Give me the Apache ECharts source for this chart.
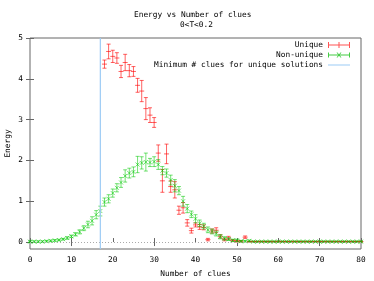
<!DOCTYPE html>
<html><head><meta charset="utf-8">
<script src="https://cdn.jsdelivr.net/npm/echarts@6/dist/echarts.min.js"></script>
<style>html,body{margin:0;padding:0;background:#fff}#c{width:374px;height:281px}</style>
</head><body><div id="c"></div>
<script>
const uniqueClues = [18,19,20,21,22,23,24,25,26,27,28,29,30,31,32,33,34,35,36,37,38,39,40,41,42,43,44,45,46,47,48,49,50,51,52,53,54,55,56,57,58,59,60,61,62,63,64,65,66,67,68,69,70,71,72,73,74,75,76,77,78,79,80];
const uniqueEnergy = [4.36,4.67,4.55,4.51,4.18,4.40,4.20,4.18,3.84,3.70,3.27,3.11,2.93,2.18,1.50,2.16,1.36,1.28,0.78,0.84,0.47,0.28,0.42,0.37,0.36,0.06,0.27,0.29,0.14,0.06,0.10,0.04,0.02,0.02,0.12,
  0.01,0.01,0.01,0.01,0.01,0.01,0.01,0.01,0.01,0.01,0.01,0.01,0.01,0.01,0.01,0.01,0.01,0.01,0.01,0.01,0.01,0.01,0.01,0.01,0.01,0.01,0.01,0.01];
const uniqueErr = [0.10,0.18,0.15,0.13,0.15,0.20,0.15,0.12,0.17,0.26,0.27,0.18,0.12,0.20,0.28,0.24,0.14,0.20,0.10,0.13,0.08,0.06,0.05,0.06,0.06,0.03,0.05,0.06,0.04,0.03,0.04,0.02,0.02,0.02,0.03,
  0.01,0.01,0.01,0.01,0.01,0.01,0.01,0.01,0.01,0.01,0.01,0.01,0.01,0.01,0.01,0.01,0.01,0.01,0.01,0.01,0.01,0.01,0.01,0.01,0.01,0.01,0.01,0.01];
const nonUniqueClues = [0,1,2,3,4,5,6,7,8,9,10,11,12,13,14,15,16,17,18,19,20,21,22,23,24,25,26,27,28,29,30,31,32,33,34,35,36,37,38,39,40,41,42,43,44,45,46,47,48,49,50,51,52,53,54,55,56,57,58,59,60,61,62,63,64,65,66,67,68,69,70,71,72,73,74,75,76,77,78,79,80];
const nonUniqueEnergy = [0.01,0.01,0.01,0.01,0.02,0.03,0.04,0.05,0.07,0.10,0.14,0.19,0.25,0.34,0.43,0.52,0.67,0.76,0.98,1.06,1.20,1.33,1.46,1.62,1.69,1.72,1.90,1.94,1.96,1.95,1.97,1.90,1.75,1.69,1.52,1.38,1.26,1.00,0.82,0.68,0.57,0.46,0.39,0.30,0.26,0.21,0.13,0.09,0.07,0.04,0.04,0.02,0.02,0.03,
  0.01,0.01,0.01,0.01,0.01,0.01,0.01,0.01,0.01,0.01,0.01,0.01,0.01,0.01,0.01,0.01,0.01,0.01,0.01,0.01,0.01,0.01,0.01,0.01,0.01,0.01,0.01];
const nonUniqueErr = [0.02,0.02,0.02,0.02,0.02,0.02,0.02,0.02,0.02,0.03,0.03,0.04,0.05,0.06,0.08,0.10,0.10,0.12,0.10,0.10,0.10,0.10,0.12,0.15,0.12,0.12,0.20,0.15,0.22,0.10,0.12,0.12,0.10,0.10,0.12,0.15,0.10,0.12,0.10,0.08,0.10,0.08,0.07,0.07,0.06,0.06,0.05,0.04,0.03,0.03,0.03,0.02,0.02,0.02,
  0.015,0.015,0.015,0.015,0.015,0.015,0.015,0.015,0.015,0.015,0.015,0.015,0.015,0.015,0.015,0.015,0.015,0.015,0.015,0.015,0.015,0.015,0.015,0.015,0.015,0.015,0.015];
const minClues = 17;
const xTicks = [0,10,20,30,40,50,60,70,80];
const yTicks = [0,1,2,3,4,5];
const topTicks = [10,30,50,70];

const FONT = 'DejaVu Sans Mono';
const FS = 7.8;
const RED = 'rgba(255,0,0,0.62)';
const GREEN = 'rgba(0,200,0,0.55)';
const BLUE = '#9ccbf5';
const Y_MIN = -0.17, Y_MAX = 5;

function makeErr(kind, color){
  return function(params, api){
    const x = api.value(0), y = api.value(1), e = api.value(2);
    const t = api.coord([x, y + e]), b = api.coord([x, y - e]), c = api.coord([x, y]);
    const s = {stroke: color, lineWidth: 1, fill: null};
    const cw = 2;
    const ch = [
      {type:'line', shape:{x1:t[0],y1:t[1],x2:b[0],y2:b[1]}, style:s},
      {type:'line', shape:{x1:t[0]-cw,y1:t[1],x2:t[0]+cw,y2:t[1]}, style:s},
      {type:'line', shape:{x1:b[0]-cw,y1:b[1],x2:b[0]+cw,y2:b[1]}, style:s}
    ];
    if (kind === 'plus') {
      ch.push({type:'line', shape:{x1:c[0]-2.5,y1:c[1],x2:c[0]+2.5,y2:c[1]}, style:s});
    } else {
      ch.push({type:'line', shape:{x1:c[0]-2,y1:c[1]-2,x2:c[0]+2,y2:c[1]+2}, style:s});
      ch.push({type:'line', shape:{x1:c[0]-2,y1:c[1]+2,x2:c[0]+2,y2:c[1]-2}, style:s});
    }
    return {type:'group', children: ch};
  };
}

const uniqueData = uniqueClues.map((x,i)=>[x, uniqueEnergy[i], uniqueErr[i]]);
const nonUniqueData = nonUniqueClues.map((x,i)=>[x, nonUniqueEnergy[i], nonUniqueErr[i]]);

const iconUnique = 'path://M0,3H22V4H0Z M0,0.5H1V6.5H0Z M21,0.5H22V6.5H21Z M10.5,0.5H11.5V6.5H10.5Z';
const iconNonUnique = 'path://M0,3H22V4H0Z M0,1H1V6H0Z M21,1H22V6H21Z M8.5,1L9.5,1L13.5,6L12.5,6Z M12.5,1L13.5,1L9.5,6L8.5,6Z';
const iconLine = 'path://M0,3H22V4H0Z M0,0H0.01V7H0Z';

const chart = echarts.init(document.getElementById('c'), null, {renderer:'canvas'});
chart.setOption({
  animation: false,
  backgroundColor: '#fff',
  title: [
    {text:'Energy vs Number of clues', left: 134, top: 11, padding:0, textStyle:{fontFamily:FONT, fontSize:FS, fontWeight:'normal', color:'#000'}},
    {text:'0<T<0.2', left: 180, top: 21, padding:0, textStyle:{fontFamily:FONT, fontSize:FS, fontWeight:'normal', color:'#000'}}
  ],
  legend: {
    orient:'vertical', right: 24, top: 40, align:'right', padding: 0,
    itemWidth: 22, itemHeight: 7, itemGap: 0,
    textStyle:{fontFamily:FONT, fontSize:FS, color:'#000', lineHeight:10},
    data:[
      {name:'Unique', icon: iconUnique, itemStyle:{color:'#f55'}},
      {name:'Non-unique', icon: iconNonUnique, itemStyle:{color:'#4c4'}},
      {name:'Minimum # clues for unique solutions', icon: iconLine, itemStyle:{color:BLUE}}
    ]
  },
  grid: {left:30, right:13, top:38, bottom:32, outerBoundsMode:'none', containLabel:false, show:true, borderColor:'#666', borderWidth:1, backgroundColor:'transparent'},
  xAxis: [{
    type:'value', min:0, max:80, interval:10, position:'bottom',
    name:'Number of clues', nameLocation:'middle', nameGap:21, nameMoveOverlap:false,
    nameTextStyle:{fontFamily:FONT, fontSize:FS, color:'#000'},
    axisLine:{show:false},
    axisTick:{inside:true, length:4, lineStyle:{color:'#666'}, customValues: xTicks},
    axisLabel:{fontFamily:FONT, fontSize:FS, color:'#000', margin:7, customValues: xTicks},
    splitLine:{show:false}
  },{
    type:'value', min:0, max:80, position:'top',
    axisLine:{show:false},
    axisTick:{inside:true, length:4, lineStyle:{color:'#666'}, customValues: topTicks},
    axisLabel:{show:false}, splitLine:{show:false}
  }],
  yAxis: [{
    type:'value', min:Y_MIN, max:Y_MAX,
    name:'Energy', nameLocation:'middle', nameGap:18, nameRotate:90, nameMoveOverlap:false,
    nameTextStyle:{fontFamily:FONT, fontSize:FS, color:'#000'},
    axisLine:{show:false},
    axisTick:{inside:true, length:4, lineStyle:{color:'#666'}, customValues: yTicks},
    axisLabel:{fontFamily:FONT, fontSize:FS, color:'#000', margin:7, customValues: yTicks},
    splitLine:{show:false}
  },{
    type:'value', min:Y_MIN, max:Y_MAX, position:'right',
    axisLine:{show:false},
    axisTick:{inside:true, length:4, lineStyle:{color:'#666'}, customValues: yTicks},
    axisLabel:{show:false}, splitLine:{show:false}
  }],
  series: [
    {name:'Unique', type:'custom', xAxisIndex:0, yAxisIndex:0, renderItem: makeErr('plus', RED), itemStyle:{color:'#f55'},
     encode:{x:0, y:1}, data: uniqueData, z: 3,
     markLine:{silent:true, symbol:'none', label:{show:false}, lineStyle:{color:'#aaa', type:[1,2], width:1}, data:[{yAxis:0}]}},
    {name:'Non-unique', type:'custom', xAxisIndex:0, yAxisIndex:0, renderItem: makeErr('x', GREEN), itemStyle:{color:'#4c4'},
     encode:{x:0, y:1}, data: nonUniqueData, z: 4},
    {name:'Minimum # clues for unique solutions', type:'line', xAxisIndex:0, yAxisIndex:0, color: BLUE,
     showSymbol:false, symbol:'none', lineStyle:{color:BLUE, width:1.2}, z:5,
     data:[[minClues, Y_MIN],[minClues, Y_MAX]]}
  ]
});
</script></body></html>
